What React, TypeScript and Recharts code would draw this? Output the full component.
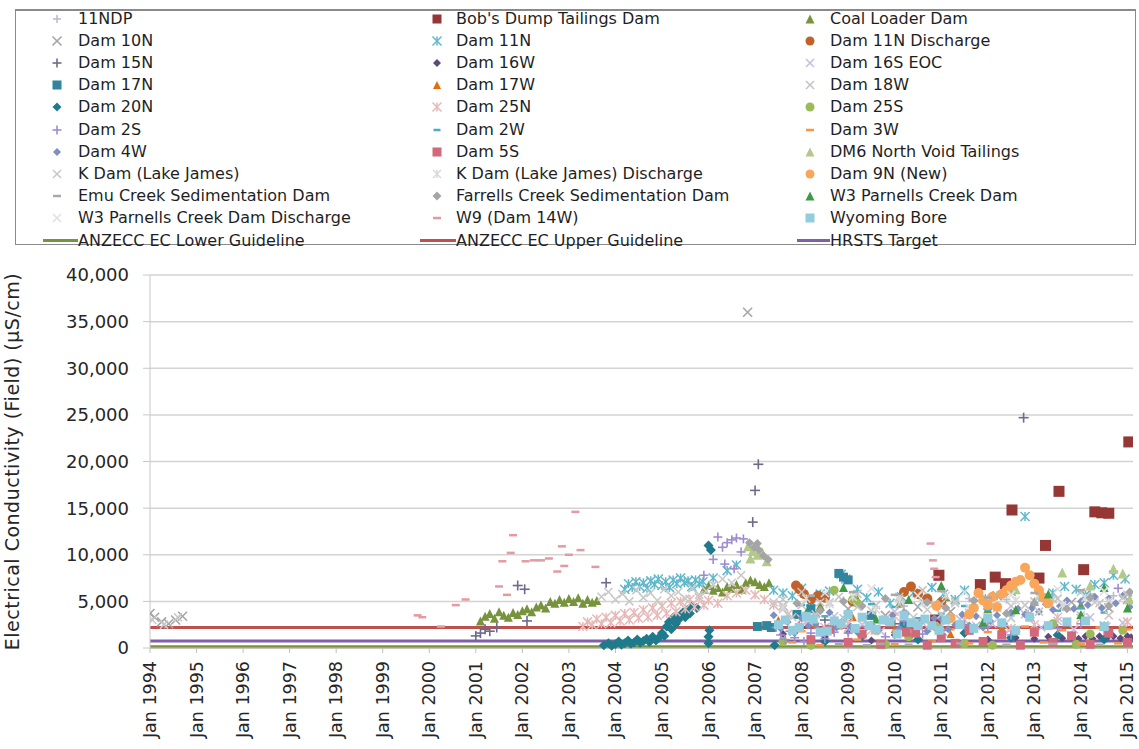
import React from "react";
import { ComposedChart, Scatter, Line, XAxis, YAxis, CartesianGrid } from "recharts";

type Pt = [number, number];

// tick labels
const yearTicks = [1994, 1995, 1996, 1997, 1998, 1999, 2000, 2001, 2002, 2003, 2004, 2005, 2006, 2007, 2008, 2009, 2010, 2011, 2012, 2013, 2014, 2015];
const ecTicks = [0, 5000, 10000, 15000, 20000, 25000, 30000, 35000, 40000];

// guideline series (x = decimal year)
const guideX = [1994, 2015.12];
const anzeccLower = [125, 125];
const anzeccUpper = [2200, 2200];
const hrstsTarget = [750, 750];

// monitoring sites, [decimal year, EC uS/cm]
const ndp11: Pt[] = [[2008.2, 4200], [2008.9, 5100], [2009.5, 3600], [2010.2, 4500], [2010.8, 4800], [2011.6, 5300], [2012.4, 5200], [2013.0, 4700], [2013.6, 4400], [2014.2, 5800], [2014.7, 5600]];
const bobsDump: Pt[] = [[2010.88, 3000], [2010.95, 7800], [2011.84, 6800], [2012.16, 7600], [2012.38, 6900], [2012.52, 14800], [2013.1, 7500], [2013.24, 11000], [2013.53, 16800], [2014.06, 8400], [2014.3, 14600], [2014.45, 14500], [2014.6, 14450], [2015.03, 22100]];
const coalLoader: Pt[] = [[2001.1, 2900], [2001.2, 3400], [2001.3, 3700], [2001.4, 3200], [2001.5, 3900], [2001.6, 3500], [2001.7, 3300], [2001.8, 3800], [2001.9, 3600], [2002.0, 4000], [2002.1, 4200], [2002.2, 3900], [2002.3, 4400], [2002.4, 4600], [2002.5, 4300], [2002.6, 5000], [2002.7, 4800], [2002.8, 5200], [2002.9, 4900], [2003.0, 5300], [2003.1, 5000], [2003.2, 5400], [2003.3, 4800], [2003.4, 5200], [2003.5, 4900], [2003.6, 5100], [2005.9, 6300], [2006.0, 6700], [2006.1, 6200], [2006.2, 6500], [2006.3, 6000], [2006.4, 6600], [2006.5, 6400], [2006.6, 6800], [2006.7, 6300], [2006.8, 7000], [2006.9, 7300], [2007.0, 7100], [2007.1, 6800], [2007.2, 6600], [2007.3, 7000], [2008.4, 4500], [2009.2, 5200], [2010.1, 4800], [2011.1, 5500], [2012.0, 4200], [2013.0, 5000], [2014.0, 4600]];
const dam10N: Pt[] = [[1994.0, 3700], [1994.1, 3300], [1994.25, 2800], [1994.4, 2600], [1994.55, 3000], [1994.7, 3400], [2006.84, 36000], [2007.6, 4500], [2008.3, 3800], [2009.0, 4200], [2009.8, 3500], [2010.5, 4400], [2011.2, 3900], [2012.0, 4600], [2012.9, 3700], [2013.8, 4900], [2014.6, 4300], [2015.0, 5200]];
const dam11N: Pt[] = [[2004.2, 6300], [2004.28, 6900], [2004.36, 6500], [2004.44, 7100], [2004.52, 6600], [2004.6, 7000], [2004.68, 6400], [2004.76, 7200], [2004.84, 6800], [2004.92, 7400], [2005.0, 6700], [2005.08, 7100], [2005.16, 6500], [2005.24, 7300], [2005.32, 6900], [2005.4, 7500], [2005.48, 7000], [2005.56, 7200], [2005.64, 6600], [2005.72, 7300], [2005.8, 6900], [2005.88, 7100], [2006.1, 7500], [2006.4, 8300], [2006.6, 8900], [2007.4, 6200], [2007.6, 5900], [2007.8, 5600], [2008.0, 6400], [2008.2, 5000], [2008.4, 5800], [2008.6, 6100], [2008.85, 7900], [2008.95, 7400], [2009.2, 6300], [2009.4, 5400], [2009.65, 6000], [2009.9, 4800], [2010.15, 5500], [2010.4, 5900], [2010.6, 5000], [2010.8, 6500], [2011.05, 5800], [2011.3, 5200], [2011.5, 6200], [2011.7, 4700], [2011.95, 5300], [2012.2, 5600], [2012.5, 6100], [2012.8, 14100], [2013.1, 5500], [2013.4, 5900], [2013.65, 6600], [2013.9, 6300], [2014.1, 5700], [2014.3, 6800], [2014.5, 7000], [2014.7, 7800], [2014.95, 7400]];
const dam11NDischarge: Pt[] = [[2007.88, 6700], [2007.95, 6300], [2008.05, 5800], [2008.2, 5200], [2008.35, 5600], [2008.5, 5400], [2009.1, 5000], [2010.2, 6000], [2010.35, 6600], [2010.5, 5800], [2010.7, 5300], [2011.0, 4900]];
const dam15N: Pt[] = [[2001.0, 1300], [2001.1, 1600], [2001.2, 2000], [2001.3, 1800], [2001.45, 2200], [2001.9, 6700], [2002.05, 6300], [2002.1, 2900], [2003.8, 7000], [2006.95, 13500], [2007.0, 16900], [2007.07, 19700], [2012.77, 24700], [2008.5, 3000], [2010.0, 2600]];
const dam16W: Pt[] = [[2007.6, 1500], [2008.0, 2200], [2008.5, 1200], [2009.0, 1800], [2009.5, 800], [2010.0, 1400], [2011.0, 1100], [2012.0, 900], [2012.6, 1100], [2013.0, 1000], [2013.3, 1200], [2013.6, 1050], [2013.8, 1150], [2013.95, 1000], [2014.1, 1250], [2014.25, 1000], [2014.4, 1250], [2014.55, 1050], [2014.7, 1250], [2014.85, 1050], [2015.0, 1250], [2015.08, 1150]];
const dam16SEOC: Pt[] = [[2008.1, 2800], [2008.4, 1900], [2008.7, 3400], [2009.0, 2100], [2009.3, 2500], [2009.7, 1800], [2010.0, 3900], [2010.35, 2600], [2010.7, 2200], [2011.05, 1700], [2011.4, 3100], [2011.75, 2400], [2012.1, 2600], [2012.45, 1900], [2012.8, 3600], [2013.15, 2200], [2013.5, 2900], [2013.85, 2000], [2014.2, 3300], [2014.55, 2300], [2014.9, 2700]];
const dam17N: Pt[] = [[2007.05, 2300], [2007.25, 2400], [2007.35, 2200], [2007.9, 3600], [2008.2, 4200], [2008.8, 8000], [2008.9, 7600], [2009.0, 7300], [2009.5, 3500], [2010.2, 2400]];
const dam17W: Pt[] = [[2007.5, 3000], [2008.3, 2600], [2009.1, 3300], [2010.0, 2000], [2011.2, 1500], [2012.3, 2200]];
const dam18W: Pt[] = [[2007.6, 5200], [2008.0, 6000], [2008.4, 4900], [2008.8, 5500], [2009.2, 5800], [2009.6, 4600], [2010.1, 5500], [2010.6, 6200], [2011.0, 4700], [2011.3, 5000], [2011.8, 5600], [2012.5, 4500], [2013.0, 5000], [2013.5, 5300], [2014.0, 6000], [2014.4, 4800], [2015.0, 5700]];
const dam20N: Pt[] = [[2003.75, 300], [2003.85, 500], [2003.92, 250], [2004.0, 400], [2004.07, 700], [2004.13, 350], [2004.2, 500], [2004.27, 800], [2004.33, 450], [2004.4, 600], [2004.47, 900], [2004.53, 550], [2004.6, 750], [2004.67, 1000], [2004.73, 650], [2004.8, 1200], [2004.87, 800], [2004.93, 1100], [2005.0, 1600], [2005.05, 1300], [2005.1, 2300], [2005.15, 2800], [2005.2, 2000], [2005.25, 3300], [2005.3, 2600], [2005.35, 3000], [2005.4, 3500], [2005.45, 3800], [2005.5, 3300], [2005.55, 4100], [2005.6, 3700], [2005.65, 4500], [2005.75, 4300], [2006.0, 11000], [2006.05, 10500], [2006.0, 500], [2006.0, 1200], [2006.02, 1900], [2007.42, 300], [2008.5, 700], [2009.3, 1300], [2010.5, 900], [2011.5, 1600], [2012.5, 1100], [2013.5, 1400], [2014.5, 900]];
const dam25N: Pt[] = [[2003.3, 2300], [2003.4, 2800], [2003.5, 2500], [2003.6, 3100], [2003.7, 2600], [2003.8, 3300], [2003.9, 2700], [2004.0, 3500], [2004.1, 2900], [2004.2, 3700], [2004.3, 3000], [2004.4, 3800], [2004.5, 3200], [2004.6, 4100], [2004.7, 3300], [2004.8, 4300], [2004.9, 3500], [2005.0, 4500], [2005.1, 3700], [2005.2, 4800], [2005.3, 3900], [2005.4, 5000], [2005.5, 4200], [2005.6, 5200], [2005.7, 4400], [2005.8, 5400], [2005.9, 4600], [2006.0, 5100], [2006.2, 4800], [2006.4, 5600], [2006.6, 5900], [2006.8, 6200], [2007.0, 5700], [2007.2, 5200], [2007.4, 4600], [2007.7, 3600], [2008.0, 3100], [2008.5, 2200], [2009.0, 2600], [2009.5, 1900], [2010.0, 3400], [2010.5, 2700], [2011.0, 2300], [2011.5, 3000], [2012.0, 2900], [2012.5, 2100], [2013.0, 2500], [2013.5, 3300], [2014.0, 3200], [2014.5, 2400], [2015.0, 2800]];
const dam25S: Pt[] = [[2007.6, 700], [2008.2, 300], [2008.7, 6200], [2009.1, 5200], [2009.2, 4800], [2009.8, 400], [2010.3, 1200], [2010.9, 2200], [2011.5, 500], [2012.1, 300], [2012.6, 1800], [2013.4, 2600], [2013.9, 400], [2014.2, 1500], [2014.9, 1900]];
const dam2S: Pt[] = [[2005.9, 7800], [2006.1, 9500], [2006.2, 11900], [2006.3, 10800], [2006.35, 9000], [2006.4, 11300], [2006.5, 11600], [2006.55, 8500], [2006.6, 11800], [2006.7, 10300], [2006.75, 11700], [2007.45, 2200], [2007.55, 1400], [2007.65, 900], [2007.75, 1800], [2007.85, 1100], [2007.95, 2400], [2008.05, 700], [2008.2, 1600], [2008.35, 2100], [2008.5, 1000], [2008.7, 1700], [2009.0, 1600], [2009.4, 2300], [2009.8, 1200], [2010.2, 2900], [2010.6, 1500], [2011.0, 1900], [2011.5, 2500], [2012.0, 2300], [2012.5, 1400], [2013.0, 1700], [2013.5, 2100], [2014.0, 2600], [2014.5, 1900], [2014.8, 6400]];
const dam2W: Pt[] = [[2008.0, 4600], [2008.5, 3400], [2009.0, 3900], [2009.5, 4700], [2010.0, 4400], [2010.5, 3200], [2011.0, 3700], [2011.5, 4500], [2012.0, 4100], [2012.5, 3500], [2013.0, 4800], [2013.5, 4000], [2014.0, 4300], [2014.5, 3800]];
const dam3W: Pt[] = [[2007.8, 600], [2008.0, 1800], [2008.4, 300], [2008.8, 2100], [2009.2, 900], [2009.6, 1600], [2010.0, 400], [2010.4, 2400], [2010.8, 700], [2011.2, 2000], [2011.6, 500], [2012.0, 1700], [2012.4, 350], [2012.8, 2300], [2013.2, 600], [2013.6, 1900], [2014.0, 450], [2014.4, 2200], [2014.8, 500], [2015.0, 2000]];
const dam4W: Pt[] = [[2007.4, 3500], [2007.55, 2100], [2007.7, 2800], [2007.85, 1600], [2008.0, 3200], [2008.15, 2400], [2008.3, 2600], [2008.45, 1900], [2008.6, 3800], [2008.75, 2200], [2008.9, 3000], [2009.05, 2300], [2009.2, 1700], [2009.35, 3300], [2009.5, 2500], [2009.65, 1900], [2009.8, 2900], [2009.95, 3500], [2010.1, 2100], [2010.25, 3700], [2010.4, 2600], [2010.55, 2700], [2010.7, 1800], [2010.85, 3200], [2011.0, 3100], [2011.15, 2000], [2011.3, 2500], [2011.45, 3600], [2011.6, 2400], [2011.75, 3400], [2011.9, 2200], [2012.05, 2900], [2012.2, 3500], [2012.35, 2600], [2012.5, 3800], [2012.65, 4200], [2012.8, 3600], [2012.95, 4300], [2013.1, 3900], [2013.25, 4700], [2013.4, 4100], [2013.55, 4500], [2013.7, 5100], [2013.85, 4200], [2014.0, 5000], [2014.15, 4600], [2014.3, 5500], [2014.45, 4300], [2014.6, 5300], [2014.75, 4800], [2014.9, 5600], [2015.05, 4400]];
const dam5S: Pt[] = [[2008.2, 900], [2008.6, 2000], [2009.0, 600], [2009.3, 1500], [2009.7, 400], [2010.25, 1700], [2010.45, 1600], [2010.7, 300], [2011.0, 1100], [2011.3, 500], [2011.6, 1900], [2011.9, 700], [2012.3, 1400], [2012.7, 300], [2013.0, 1700], [2013.4, 600], [2013.8, 1300], [2014.2, 400], [2014.6, 1600], [2015.0, 600]];
const dm6NorthVoid: Pt[] = [[2006.85, 10900], [2006.9, 9600], [2006.95, 10400], [2007.05, 10000], [2007.15, 10300], [2007.25, 9300], [2012.6, 6300], [2013.6, 8100], [2014.2, 6700], [2014.7, 8500], [2014.9, 8000], [2015.05, 5200]];
const dam9N: Pt[] = [[2010.9, 4500], [2011.2, 3200], [2011.6, 3600], [2011.7, 4300], [2011.8, 5900], [2011.9, 5100], [2012.0, 4600], [2012.1, 5500], [2012.2, 4400], [2012.3, 5800], [2012.4, 6200], [2012.5, 6700], [2012.6, 7100], [2012.7, 7300], [2012.8, 8600], [2012.9, 7800], [2013.0, 6900], [2013.1, 6200], [2013.2, 5400], [2013.3, 4800]];
const kDam: Pt[] = [[1994.05, 3000], [1994.3, 2500], [1994.6, 3300], [2003.7, 5500], [2003.85, 6000], [2004.0, 5200], [2004.15, 5800], [2004.3, 5000], [2004.45, 6200], [2004.6, 5400], [2004.75, 5900], [2004.9, 5100], [2005.05, 6300], [2005.2, 5600], [2005.35, 6000], [2005.5, 5300], [2005.65, 6400], [2005.8, 5700], [2005.95, 6100], [2006.1, 6800], [2006.3, 7400], [2006.5, 7000], [2006.7, 7800], [2007.4, 4900], [2007.6, 4200], [2007.8, 3300], [2008.0, 4600], [2008.3, 3600], [2008.6, 4900], [2008.9, 3200], [2009.2, 4400], [2009.5, 4000], [2009.8, 3100], [2010.1, 4700], [2010.4, 3300], [2010.7, 4100], [2011.0, 3600], [2011.3, 4800], [2011.6, 3800], [2011.9, 3000], [2012.2, 4300], [2012.5, 3200], [2012.8, 4600], [2013.1, 3900], [2013.4, 5200], [2013.7, 4400], [2014.0, 3500], [2014.3, 4900], [2014.6, 3500], [2014.9, 5400]];
const kDamDischarge: Pt[] = [[2007.6, 4400], [2008.1, 5300], [2008.6, 4700], [2009.1, 5500], [2009.6, 4100], [2010.1, 5200], [2010.6, 4800], [2011.1, 5600], [2011.6, 4300], [2012.1, 4900], [2012.6, 5100], [2013.1, 5700], [2013.6, 4600], [2014.1, 5400], [2014.6, 5000]];
const emuCreek: Pt[] = [[2008.2, 5600], [2008.8, 400], [2009.1, 6000], [2009.4, 300], [2009.7, 450], [2010.0, 5700], [2010.3, 350], [2011.0, 6100], [2011.4, 500], [2012.0, 5400], [2012.4, 300], [2013.0, 5900], [2013.4, 450], [2014.0, 6200], [2014.4, 350]];
const farrellsCreek: Pt[] = [[2006.88, 11300], [2006.98, 10800], [2007.05, 11200], [2007.08, 10500], [2007.18, 9900], [2007.28, 9500], [2007.9, 4800], [2008.4, 4000], [2008.9, 5000], [2009.3, 4500], [2009.8, 5300], [2010.2, 3800], [2010.7, 4900], [2011.1, 4300], [2011.7, 5100], [2012.4, 3700], [2013.0, 4800], [2013.7, 4200], [2014.2, 5400], [2014.6, 4500], [2015.05, 6000]];
const w3Parnells: Pt[] = [[2008.1, 3800], [2008.9, 6500], [2009.6, 3100], [2010.3, 5200], [2011.0, 6700], [2011.9, 2800], [2012.6, 4100], [2013.3, 5800], [2014.0, 3600], [2014.5, 6500], [2015.0, 4300]];
const w3ParnellsDischarge: Pt[] = [[2008.5, 5900], [2009.5, 6400], [2010.5, 5600], [2011.5, 6000], [2012.5, 5700], [2013.5, 6300], [2014.5, 6100]];
const w9Dam14W: Pt[] = [[1999.75, 3500], [1999.85, 3300], [2000.25, 2300], [2000.57, 4600], [2000.78, 5200], [2001.5, 6600], [2001.57, 9300], [2001.67, 5700], [2001.75, 10200], [2001.8, 12100], [2002.07, 9300], [2002.25, 9400], [2002.4, 9400], [2002.57, 9600], [2002.75, 8200], [2002.85, 10900], [2002.9, 8800], [2003.0, 10000], [2003.14, 14600], [2003.25, 10500], [2003.57, 8700], [2010.77, 11200], [2010.82, 9400], [2010.85, 8500], [2010.88, 7600]];
const wyomingBore: Pt[] = [[2007.5, 2500], [2007.65, 3000], [2007.8, 1900], [2007.95, 2200], [2008.1, 3400], [2008.25, 3100], [2008.4, 1700], [2008.55, 1800], [2008.7, 2900], [2008.85, 2600], [2009.0, 3600], [2009.15, 2100], [2009.3, 3300], [2009.45, 2400], [2009.6, 2000], [2009.75, 3000], [2009.9, 2800], [2010.05, 1500], [2010.2, 3500], [2010.35, 2700], [2010.5, 2400], [2010.65, 3100], [2010.8, 2400], [2010.95, 1900], [2011.1, 3000], [2011.4, 2500], [2011.7, 2100], [2012.0, 3200], [2012.3, 2700], [2012.6, 1900], [2012.9, 3300], [2013.3, 2400], [2013.7, 2800], [2014.1, 2900], [2014.5, 2300]];

type Shape = "plus" | "x" | "star" | "square" | "diamond" | "triangle" | "circle" | "dash";
type Site = { name: string; data: Pt[]; shape: Shape; color: string; size: number };

// legend order: row by row, three columns
const sites: Site[] = [
  { name: "11NDP", data: ndp11, shape: "plus", color: "#bcbcd0", size: 8 },
  { name: "Bob's Dump Tailings Dam", data: bobsDump, shape: "square", color: "#953735", size: 11 },
  { name: "Coal Loader Dam", data: coalLoader, shape: "triangle", color: "#77933c", size: 9 },
  { name: "Dam 10N", data: dam10N, shape: "x", color: "#a6a6a6", size: 9 },
  { name: "Dam 11N", data: dam11N, shape: "star", color: "#5fb8cc", size: 9 },
  { name: "Dam 11N Discharge", data: dam11NDischarge, shape: "circle", color: "#c0622a", size: 10 },
  { name: "Dam 15N", data: dam15N, shape: "plus", color: "#6b6b8c", size: 10 },
  { name: "Dam 16W", data: dam16W, shape: "diamond", color: "#604a7b", size: 8 },
  { name: "Dam 16S EOC", data: dam16SEOC, shape: "x", color: "#c9bde0", size: 8 },
  { name: "Dam 17N", data: dam17N, shape: "square", color: "#31859c", size: 9 },
  { name: "Dam 17W", data: dam17W, shape: "triangle", color: "#e46c0a", size: 8 },
  { name: "Dam 18W", data: dam18W, shape: "x", color: "#c4c4c4", size: 8 },
  { name: "Dam 20N", data: dam20N, shape: "diamond", color: "#1f7a8c", size: 10 },
  { name: "Dam 25N", data: dam25N, shape: "star", color: "#e6b9b8", size: 9 },
  { name: "Dam 25S", data: dam25S, shape: "circle", color: "#9bbb59", size: 9 },
  { name: "Dam 2S", data: dam2S, shape: "plus", color: "#a08bd0", size: 9 },
  { name: "Dam 2W", data: dam2W, shape: "dash", color: "#4bacc6", size: 7 },
  { name: "Dam 3W", data: dam3W, shape: "dash", color: "#f79646", size: 8 },
  { name: "Dam 4W", data: dam4W, shape: "diamond", color: "#7f8fbf", size: 8 },
  { name: "Dam 5S", data: dam5S, shape: "square", color: "#d2697a", size: 9 },
  { name: "DM6 North Void Tailings", data: dm6NorthVoid, shape: "triangle", color: "#b3c98a", size: 10 },
  { name: "K Dam (Lake James)", data: kDam, shape: "x", color: "#c8c8c8", size: 8 },
  { name: "K Dam (Lake James) Discharge", data: kDamDischarge, shape: "star", color: "#d9d9d9", size: 8 },
  { name: "Dam 9N (New)", data: dam9N, shape: "circle", color: "#f9a65a", size: 10 },
  { name: "Emu Creek Sedimentation Dam", data: emuCreek, shape: "dash", color: "#a9a9a9", size: 8 },
  { name: "Farrells Creek Sedimentation Dam", data: farrellsCreek, shape: "diamond", color: "#a5a5a5", size: 9 },
  { name: "W3 Parnells Creek Dam", data: w3Parnells, shape: "triangle", color: "#3f9a45", size: 9 },
  { name: "W3 Parnells Creek Dam Discharge", data: w3ParnellsDischarge, shape: "x", color: "#e0e0e0", size: 8 },
  { name: "W9 (Dam 14W)", data: w9Dam14W, shape: "dash", color: "#e39aa0", size: 8 },
  { name: "Wyoming Bore", data: wyomingBore, shape: "square", color: "#93cddd", size: 9 },
];

const guides = [
  { name: "ANZECC EC Lower Guideline", values: anzeccLower, color: "#77933c" },
  { name: "ANZECC EC Upper Guideline", values: anzeccUpper, color: "#c0504d" },
  { name: "HRSTS Target", values: hrstsTarget, color: "#7f5fa8" },
];

const FONT = "'DejaVu Sans', sans-serif";

function marker(shape: Shape, color: string, size: number, cx: number, cy: number, key?: string) {
  const h = size / 2;
  switch (shape) {
    case "square":
      return <rect key={key} x={cx - h} y={cy - h} width={size} height={size} fill={color} />;
    case "diamond":
      return <polygon key={key} points={`${cx},${cy - h} ${cx + h},${cy} ${cx},${cy + h} ${cx - h},${cy}`} fill={color} />;
    case "triangle":
      return <polygon key={key} points={`${cx},${cy - h} ${cx + h},${cy + h} ${cx - h},${cy + h}`} fill={color} />;
    case "circle":
      return <circle key={key} cx={cx} cy={cy} r={h} fill={color} />;
    case "dash":
      return <line key={key} x1={cx - h} y1={cy} x2={cx + h} y2={cy} stroke={color} strokeWidth={2.5} />;
    case "plus":
      return (
        <g key={key} stroke={color} strokeWidth={1.6}>
          <line x1={cx - h} y1={cy} x2={cx + h} y2={cy} />
          <line x1={cx} y1={cy - h} x2={cx} y2={cy + h} />
        </g>
      );
    case "x":
      return (
        <g key={key} stroke={color} strokeWidth={1.6}>
          <line x1={cx - h} y1={cy - h} x2={cx + h} y2={cy + h} />
          <line x1={cx - h} y1={cy + h} x2={cx + h} y2={cy - h} />
        </g>
      );
    default:
      return (
        <g key={key} stroke={color} strokeWidth={1.5}>
          <line x1={cx - h} y1={cy - h} x2={cx + h} y2={cy + h} />
          <line x1={cx - h} y1={cy + h} x2={cx + h} y2={cy - h} />
          <line x1={cx} y1={cy - h} x2={cx} y2={cy + h} />
        </g>
      );
  }
}

const XTick = (props: any) => {
  const { x, y, payload } = props;
  const ty = y + 6;
  return (
    <text x={x} y={ty} transform={`rotate(-90 ${x} ${ty})`} textAnchor="end" dominantBaseline="central" fontFamily={FONT} fontSize={17.5} fill="#262626">
      {`Jan ${payload.value}`}
    </text>
  );
};

const colX = [[57, 78, 43], [437, 456, 420], [810, 830, 797]];
const rowY0 = 18.5;
const rowH = 22.2;

const LegendBox = () => (
  <div style={{ position: "absolute", left: 0, top: 0, width: 1139, height: 250, pointerEvents: "none" }}>
    <div style={{ position: "absolute", left: 15, top: 9, width: 1121, height: 236, border: "1px solid #8a8a8a", borderTopWidth: 2, boxSizing: "border-box" }} />
    {sites.map((s, i) => {
      const col = i % 3;
      const row = Math.floor(i / 3);
      const cy = rowY0 + row * rowH;
      return (
        <React.Fragment key={s.name}>
          <svg style={{ position: "absolute", left: colX[col][0] - 7, top: cy - 7 }} width={14} height={14}>
            {marker(s.shape, s.color, Math.min(s.size, 9), 7, 7)}
          </svg>
          <div style={{ position: "absolute", left: colX[col][1], top: cy - 10, lineHeight: "20px", fontFamily: FONT, fontSize: 16, color: "#1f1f1f", whiteSpace: "nowrap" }}>
            {s.name}
          </div>
        </React.Fragment>
      );
    })}
    {guides.map((g, col) => {
      const cy = rowY0 + 10 * rowH;
      return (
        <React.Fragment key={g.name}>
          <div style={{ position: "absolute", left: colX[col][2], top: cy - 1.5, width: colX[col][1] - colX[col][2], height: 3, background: g.color }} />
          <div style={{ position: "absolute", left: colX[col][1], top: cy - 10, lineHeight: "20px", fontFamily: FONT, fontSize: 16, color: "#1f1f1f", whiteSpace: "nowrap" }}>
            {g.name}
          </div>
        </React.Fragment>
      );
    })}
  </div>
);

export default function App() {
  return (
    <div style={{ position: "absolute", left: 0, top: 0, width: 1139, height: 749, background: "#fff" }}>
      <ComposedChart width={1139} height={749} margin={{ top: 275, right: 6, bottom: 0, left: 0 }}>
        <CartesianGrid vertical={false} stroke="#d3d3d3" strokeWidth={1.5} />
        <XAxis
          type="number"
          dataKey="x"
          domain={[1994, 2015.12]}
          ticks={yearTicks}
          interval={0}
          height={101}
          allowDataOverflow
          stroke="#bfbfbf"
          tickSize={5}
          tick={<XTick />}
        />
        <YAxis
          type="number"
          dataKey="y"
          domain={[0, 40000]}
          ticks={ecTicks}
          interval={0}
          width={150}
          stroke="#c8c8c8"
          tickSize={7}
          tickMargin={14}
          tickFormatter={(v: number) => v.toLocaleString("en-US")}
          tick={{ fontFamily: FONT, fontSize: 18, fill: "#262626" }}
          label={{
            value: "Electrical Conductivity (Field) (µS/cm)",
            angle: -90,
            position: "insideLeft",
            offset: 12,
            style: { textAnchor: "middle", fontFamily: FONT, fontSize: 19, letterSpacing: 0.5, fill: "#262626" },
          }}
        />
        {guides.map((g) => (
          <Line
            key={g.name}
            name={g.name}
            data={guideX.map((x, i) => ({ x, y: g.values[i] }))}
            dataKey="y"
            stroke={g.color}
            strokeWidth={3}
            dot={false}
            activeDot={false}
            isAnimationActive={false}
          />
        ))}
        {sites.map((s) => (
          <Scatter
            key={s.name}
            name={s.name}
            data={s.data.map(([x, y]) => ({ x, y }))}
            dataKey="y"
            isAnimationActive={false}
            shape={(p: any) => marker(s.shape, s.color, s.size, p.cx, p.cy)}
          />
        ))}
      </ComposedChart>
      <LegendBox />
    </div>
  );
}
